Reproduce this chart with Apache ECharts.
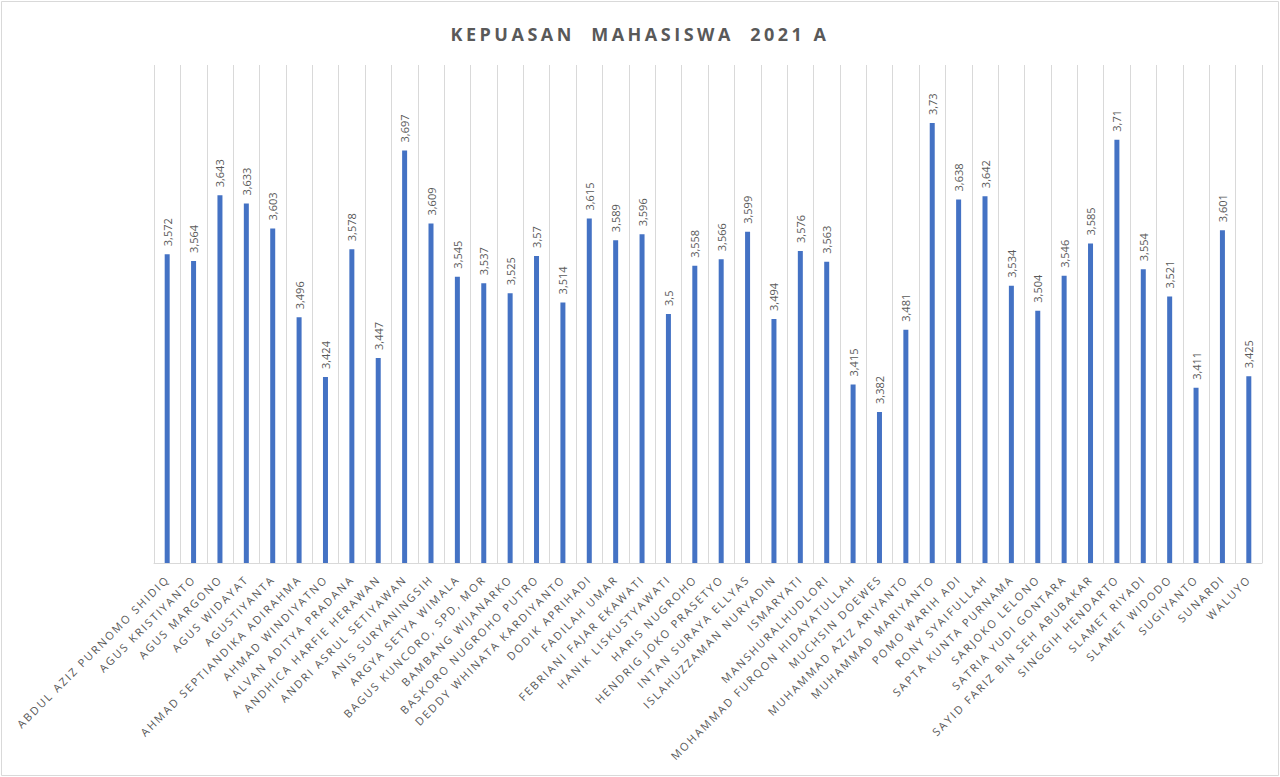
<!DOCTYPE html>
<html>
<head>
<meta charset="utf-8">
<title>Kepuasan Mahasiswa 2021 A</title>
<script src="https://cdn.jsdelivr.net/npm/echarts@6/dist/echarts.min.js"></script>
<style>
  html, body { margin: 0; padding: 0; background: #fff; }
  #chart { width: 1280px; height: 777px; }
</style>
</head>
<body>
<div id="chart"></div>
<script>
// nama dosen
var names = [
  "ABDUL AZIZ PURNOMO SHIDIQ", "AGUS KRISTIYANTO", "AGUS MARGONO", "AGUS WIDAYAT",
  "AGUSTIYANTA", "AHMAD SEPTIANDIKA ADIRAHMA", "AHMAD WINDIYATNO", "ALVAN ADITYA PRADANA",
  "ANDHICA HARFIE HERAWAN", "ANDRI ASRUL SETIYAWAN", "ANIS SURYANINGSIH", "ARGYA SETYA WIMALA",
  "BAGUS KUNCORO, SPD, MOR", "BAMBANG WIJANARKO", "BASKORO NUGROHO PUTRO", "DEDDY WHINATA KARDIYANTO",
  "DODIK APRIHADI", "FADILAH UMAR", "FEBRIANI FAJAR EKAWATI", "HANIK LISKUSTYAWATI",
  "HARIS NUGROHO", "HENDRIG JOKO PRASETYO", "INTAN SURAYA ELLYAS", "ISLAHUZZAMAN NURYADIN",
  "ISMARYATI", "MANSHURALHUDLORI", "MOHAMMAD FURQON HIDAYATULLAH", "MUCHSIN DOEWES",
  "MUHAMMAD AZIZ ARIYANTO", "MUHAMMAD MARIYANTO", "POMO WARIH ADI", "RONY SYAIFULLAH",
  "SAPTA KUNTA PURNAMA", "SARJOKO LELONO", "SATRIA YUDI GONTARA", "SAYID FARIZ BIN SEH ABUBAKAR",
  "SINGGIH HENDARTO", "SLAMET RIYADI", "SLAMET WIDODO", "SUGIYANTO", "SUNARDI", "WALUYO"
];
// nilai kepuasan
var scores = [
  3.572, 3.564, 3.643, 3.633, 3.603, 3.496, 3.424, 3.578,
  3.447, 3.697, 3.609, 3.545, 3.537, 3.525, 3.57, 3.514,
  3.615, 3.589, 3.596, 3.5, 3.558, 3.566, 3.599, 3.494,
  3.576, 3.563, 3.415, 3.382, 3.481, 3.73, 3.638, 3.642,
  3.534, 3.504, 3.546, 3.585, 3.71, 3.554, 3.521, 3.411, 3.601, 3.425
];
var yMin = 3.2, yMax = 3.8;
var titleText = "KEPUASAN  MAHASISWA  2021 A";

var myChart = echarts.init(document.getElementById("chart"), null, { renderer: "svg" });
var option = {
  backgroundColor: "#fff",
  textStyle: { fontFamily: "Open Sans" },
  title: {
    text: titleText,
    left: "center",
    top: 20,
    textStyle: { fontSize: 18, fontWeight: "bold", color: "#595959", fontFamily: "Open Sans" }
  },
  graphic: [{
    type: "rect",
    shape: { x: 1.5, y: 1.5, width: 1277, height: 774 },
    style: { fill: "none", stroke: "#d9d9d9", lineWidth: 1 }
  }],
  grid: { left: 154, right: 18, top: 65, bottom: 214 },
  xAxis: {
    type: "category",
    data: names,
    axisLine: { lineStyle: { color: "#d9d9d9" } },
    axisTick: { show: false },
    splitLine: { show: true, interval: 0, lineStyle: { color: "#d9d9d9", width: 1 } },
    axisLabel: {
      interval: 0,
      rotate: 45,
      margin: 14,
      fontSize: 11,
      color: "#595959",
      fontFamily: "Open Sans"
    }
  },
  yAxis: {
    type: "value",
    min: yMin,
    max: yMax,
    show: false,
    splitLine: { show: false }
  },
  series: [{
    type: "bar",
    data: scores,
    barWidth: 5,
    itemStyle: { color: "#4472c4" },
    label: {
      show: true,
      position: "top",
      rotate: 90,
      align: "left",
      verticalAlign: "middle",
      distance: 8,
      fontSize: 11,
      color: "#595959",
      formatter: function (p) { return String(p.value).replace(".", ","); }
    }
  }]
};
myChart.setOption(option);

// spasi huruf seperti di Excel
function spaceLetters() {
  var texts = document.querySelectorAll("#chart svg text");
  texts.forEach(function (t) {
    var s = t.textContent;
    if (s === titleText) t.setAttribute("letter-spacing", "3.5px");
    else if (names.indexOf(s) >= 0) t.setAttribute("letter-spacing", "2px");
  });
}
myChart.on("finished", spaceLetters);
spaceLetters();

window.addEventListener("resize", function () {
  myChart.resize();
});
</script>
</body>
</html>
